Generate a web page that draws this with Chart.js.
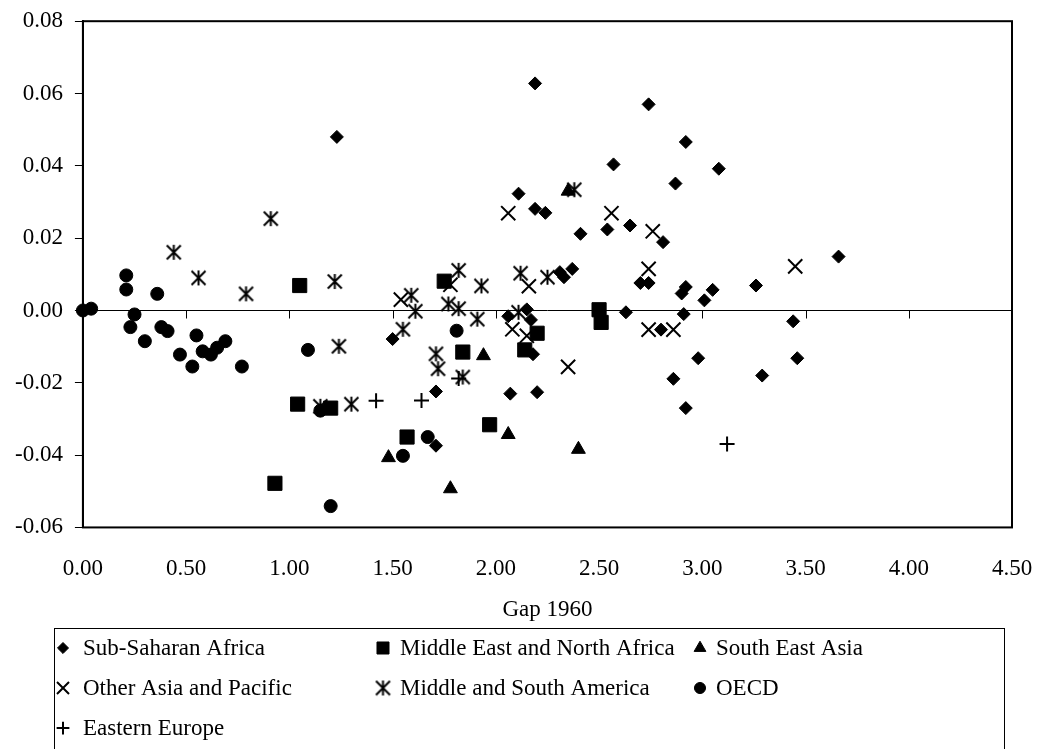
<!DOCTYPE html>
<html>
<head>
<meta charset="utf-8">
<script src="https://cdn.jsdelivr.net/npm/chart.js@4/dist/chart.umd.min.js"></script>
<style>
  body { margin: 0; background: #fff; }
  canvas { display: block; }
</style>
</head>
<body>
<canvas id="gapChart" width="1040" height="749"></canvas>
<script>
// [gap 1960, growth difference]
const subSaharanAfrica = [
    [1.23, 0.0480], [2.19, 0.0628], [2.74, 0.0570], [2.92, 0.0466], [2.57, 0.0404],
    [3.08, 0.0392], [2.87, 0.0351], [2.11, 0.0323], [2.19, 0.0281], [2.24, 0.0270],
    [2.65, 0.0235], [2.54, 0.0224], [2.81, 0.0189], [2.41, 0.0212], [3.66, 0.0149],
    [2.31, 0.0106], [2.37, 0.0115], [2.33, 0.0092], [2.70, 0.0076], [2.74, 0.0076],
    [2.92, 0.0065], [2.90, 0.0047], [3.05, 0.0057], [3.01, 0.0028], [2.06, -0.0016],
    [2.15, 0.0003], [2.17, -0.0026], [2.18, -0.0121], [2.63, -0.0005], [2.80, -0.0053],
    [2.91, -0.0010], [2.98, -0.0132], [2.86, -0.0189], [2.92, -0.0270], [3.26, 0.0069],
    [3.44, -0.0030], [3.46, -0.0132], [3.29, -0.0180], [1.50, -0.0079], [1.71, -0.0224],
    [1.71, -0.0374], [2.07, -0.0230], [2.20, -0.0226]
];
const middleEastNorthAfrica = [
    [1.05, 0.0069], [1.04, -0.0259], [1.20, -0.0270], [0.93, -0.0478], [1.75, 0.0081],
    [1.84, -0.0115], [1.57, -0.0350], [1.97, -0.0316], [2.20, -0.0063], [2.14, -0.0109],
    [2.50, 0.0002], [2.51, -0.0033]
];
const southEastAsia = [
    [2.35, 0.0330], [1.94, -0.0125], [1.48, -0.0407], [1.78, -0.0493], [2.06, -0.0343],
    [2.40, -0.0384]
];
const otherAsiaPacific = [
    [2.06, 0.0269], [2.56, 0.0269], [2.76, 0.0219], [3.45, 0.0122], [1.54, 0.0030],
    [1.78, 0.0071], [2.16, 0.0067], [2.74, 0.0115], [2.08, -0.0052], [2.15, -0.0070],
    [2.35, -0.0156], [2.74, -0.0053], [2.86, -0.0053]
];
const middleSouthAmerica = [
    [0.44, 0.0161], [0.91, 0.0254], [0.56, 0.0090], [0.79, 0.0046], [1.22, 0.0080],
    [1.24, -0.0099], [1.15, -0.0265], [1.30, -0.0259], [1.59, 0.0042], [1.61, -0.0002],
    [1.55, -0.0052], [1.82, 0.0111], [1.77, 0.0018], [1.82, 0.0005], [1.93, 0.0068],
    [1.91, -0.0024], [1.71, -0.0120], [1.72, -0.0161], [1.84, -0.0184], [2.12, 0.0103],
    [2.25, 0.0092], [2.11, -0.0005], [2.38, 0.0334]
];
const oecd = [
    [0.00, 0.0000], [0.04, 0.0005], [0.21, 0.0097], [0.21, 0.0058], [0.36, 0.0046],
    [0.25, -0.0011], [0.23, -0.0046], [0.30, -0.0085], [0.38, -0.0046], [0.41, -0.0057],
    [0.55, -0.0069], [0.47, -0.0122], [0.53, -0.0155], [0.58, -0.0113], [0.62, -0.0122],
    [0.65, -0.0103], [0.69, -0.0085], [0.77, -0.0155], [1.09, -0.0109], [1.15, -0.0277],
    [1.20, -0.0541], [1.55, -0.0402], [1.67, -0.0350], [1.81, -0.0056]
];
const easternEurope = [
    [1.42, -0.0250], [1.64, -0.0249], [1.82, -0.0188], [3.12, -0.0369]
];

const FAMILY = "'Liberation Serif', 'Times New Roman', serif";
const FONT = { family: FAMILY, size: 23 };

// Excel style "star" marker: an X with a vertical bar
function makeAsterisk(size) {
    const c = document.createElement("canvas");
    c.width = size;
    c.height = size;
    const g = c.getContext("2d");
    const m = size / 2, a = size / 2 - 1.5;
    g.strokeStyle = "#000";
    g.lineWidth = 2;
    g.beginPath();
    g.moveTo(m - a, m - a); g.lineTo(m + a, m + a);
    g.moveTo(m + a, m - a); g.lineTo(m - a, m + a);
    g.moveTo(m, m - a - 0.5); g.lineTo(m, m + a + 0.5);
    g.stroke();
    return c;
}
const asterisk = makeAsterisk(17);

function toPoints(pairs) {
    return pairs.map(p => ({ x: p[0], y: p[1] }));
}

function series(label, pairs, style, radius, borderWidth) {
    return {
        label: label,
        data: toPoints(pairs),
        pointStyle: style,
        pointRadius: radius,
        pointHoverRadius: radius,
        pointBackgroundColor: "#000",
        pointBorderColor: "#000",
        pointBorderWidth: borderWidth,
        showLine: false,
        clip: false
    };
}

const datasets = [
    series("Sub-Saharan Africa", subSaharanAfrica, "rectRot", 6.5, 1),
    series("Middle East and North Africa", middleEastNorthAfrica, "rect", 10, 1),
    series("South East Asia", southEastAsia, "triangle", 8, 1),
    series("Other Asia and Pacific", otherAsiaPacific, "crossRot", 10, 2),
    series("Middle and South America", middleSouthAmerica, asterisk, 8, 1),
    series("OECD", oecd, "circle", 6.5, 1),
    series("Eastern Europe", easternEurope, "cross", 7.5, 2)
];

// zero line with its tick marks, and the plot frame
const framePlugin = {
    id: "frame",
    beforeDatasetsDraw(chart) {
        const ctx = chart.ctx, a = chart.chartArea;
        const xs = chart.scales.x, ys = chart.scales.y;
        const y0 = Math.round(ys.getPixelForValue(0)) + 0.5;
        ctx.save();
        ctx.strokeStyle = "#000";
        ctx.lineWidth = 1;
        ctx.beginPath();
        ctx.moveTo(a.left, y0);
        ctx.lineTo(a.right, y0);
        xs.ticks.forEach(t => {
            if (t.value === 0) return;
            const px = Math.round(xs.getPixelForValue(t.value)) + 0.5;
            ctx.moveTo(px, y0);
            ctx.lineTo(px, y0 + 8);
        });
        ctx.stroke();
        ctx.lineWidth = 2;
        ctx.strokeRect(a.left, a.top, a.right - a.left, a.bottom - a.top);
        ctx.restore();
    }
};

// boxed legend laid out in three columns like the original
const legendPlugin = {
    id: "boxLegend",
    afterDraw(chart) {
        const ctx = chart.ctx;
        const cols = [[63, 83], [383, 400], [700, 716]];
        const rows = [648, 688, 728];
        ctx.save();
        ctx.strokeStyle = "#000";
        ctx.lineWidth = 1;
        ctx.strokeRect(54.5, 628.5, 950, 140);
        ctx.font = FONT.size + "px " + FAMILY;
        ctx.textBaseline = "middle";
        chart.data.datasets.forEach((ds, i) => {
            const col = cols[i % 3], y = rows[Math.floor(i / 3)];
            ctx.fillStyle = "#000";
            ctx.strokeStyle = "#000";
            ctx.lineWidth = ds.pointBorderWidth;
            Chart.helpers.drawPoint(ctx, {
                pointStyle: ds.pointStyle,
                radius: ds.pointRadius * 0.85,
                borderWidth: ds.pointBorderWidth,
                rotation: 0
            }, col[0], y);
            ctx.fillText(ds.label, col[1], y + 1);
        });
        ctx.restore();
    }
};

new Chart(document.getElementById("gapChart"), {
    type: "scatter",
    data: { datasets: datasets },
    options: {
        responsive: false,
        animation: false,
        layout: { padding: { left: 3, right: 28, top: 1, bottom: 121 } },
        plugins: {
            legend: { display: false },
            tooltip: { enabled: false }
        },
        scales: {
            x: {
                type: "linear",
                min: 0,
                max: 4.5,
                ticks: {
                    stepSize: 0.5,
                    autoSkip: false,
                    maxRotation: 0,
                    padding: 3,
                    color: "#000",
                    font: { family: FAMILY, size: 23, lineHeight: 3.39 },
                    callback: v => v.toFixed(2)
                },
                grid: { display: false, drawTicks: false },
                border: { display: false },
                title: {
                    display: true,
                    text: "Gap 1960",
                    color: "#000",
                    font: FONT,
                    padding: { top: -15, bottom: 4 }
                }
            },
            y: {
                min: -0.06,
                max: 0.08,
                ticks: {
                    stepSize: 0.02,
                    padding: 12,
                    color: "#000",
                    font: { family: FAMILY, size: 23, lineHeight: 0.8 },
                    callback: v => (Math.abs(v) < 1e-9 ? 0 : v).toFixed(2)
                },
                grid: { drawOnChartArea: false, drawTicks: true, tickLength: 8, color: "#000" },
                border: { display: true, color: "#000", width: 2 }
            }
        }
    },
    plugins: [framePlugin, legendPlugin]
});
</script>
</body>
</html>
